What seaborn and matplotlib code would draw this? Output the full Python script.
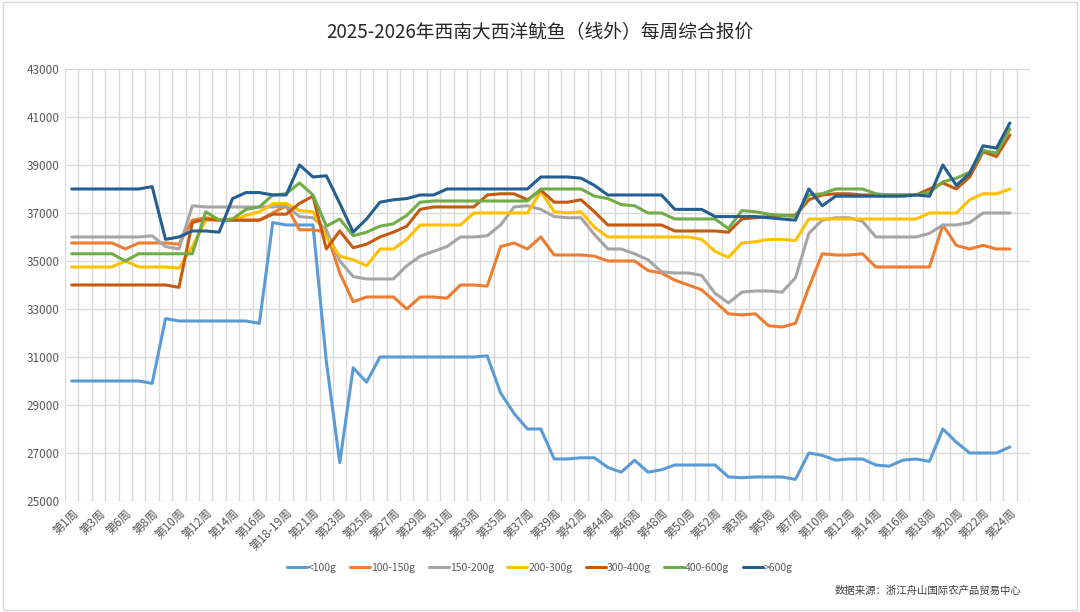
import numpy as np
import pandas as pd
import matplotlib
matplotlib.use('Agg')
import matplotlib.pyplot as plt
import seaborn as sns

# weeks 2025 -> 2026 (last category is an empty slot, as in the source chart)
weeks = ['第1周', '第2周', '第3周', '第4-5周', '第6周', '第7周', '第8周', '第9周', '第10周', '第11周',
         '第12周', '第13周', '第14周', '第15周', '第16周', '第17周', '第18-19周', '第20周', '第21周', '第22周',
         '第23周', '第24周', '第25周', '第26周', '第27周', '第28周', '第29周', '第30周', '第31周', '第32周',
         '第33周', '第34周', '第35周', '第36周', '第37周', '第38周', '第39周', '第40-41周', '第42周', '第43周',
         '第44周', '第45周', '第46周', '第47周', '第48周', '第49周', '第50周', '第51周', '第52周', '第1-2周',
         '第3周', '第4周', '第5周', '第6周', '第7周', '第8-9周', '第10周', '第11周', '第12周', '第13周',
         '第14周', '第15周', '第16周', '第17周', '第18周', '第19周', '第20周', '第21周', '第22周', '第23周',
         '第24周', '第25周']

lt100 = [30000]*6 + [29900, 32600] + [32500]*6 + [32400, 36600, 36500, 36500, 36500, 30800, 26600, 30550,
         29950] + [31000]*8 + [31050, 29500, 28650, 28000, 28000, 26750, 26750, 26800, 26800, 26400,
         26200, 26700, 26200, 26300, 26500, 26500, 26500, 26500, 26000, 25970, 26000, 26000, 26000,
         25900, 27000, 26900, 26700, 26750, 26750, 26500, 26450, 26700, 26750, 26650, 28000, 27450,
         27000, 27000, 27000, 27250]

g100_150 = [35750]*4 + [35500] + [35750]*3 + [35700, 36700, 36800] + [36700]*4 + [37000, 37300, 36300,
            36300, 36200, 34500, 33300, 33500, 33500, 33500, 33000, 33500, 33500, 33450, 34000, 34000,
            33950, 35600, 35750, 35500, 36000, 35250, 35250, 35250, 35200, 35000, 35000, 35000, 34600,
            34500, 34200, 34000, 33800, 33300, 32800, 32750, 32800, 32300, 32250, 32400, 33900, 35300,
            35250, 35250, 35300] + [34750]*5 + [36500, 35650, 35500, 35650, 35500, 35500]

g150_200 = [36000]*6 + [36050, 35600, 35500, 37300] + [37250]*6 + [37300, 36850, 36800, 36300, 35000,
            34350, 34250, 34250, 34250, 34800, 35200, 35400, 35600, 36000, 36000, 36050, 36500, 37250,
            37300, 37150, 36850, 36800, 36800, 36100, 35500, 35500, 35300, 35050, 34550, 34500, 34500,
            34400, 33650, 33250, 33700, 33750, 33750, 33700, 34300, 36150, 36700, 36800, 36800, 36650,
            36000, 36000, 36000, 36000, 36150, 36500, 36500, 36600, 37000, 37000, 37000]

g200_300 = [34750]*4 + [35000] + [34750]*3 + [34700, 35600, 36700, 36700, 36700, 36900, 37050, 37380,
            37400, 37100, 37050, 36000, 35200, 35050, 34800, 35500, 35500, 35900, 36500, 36500, 36500,
            36500] + [37000]*5 + [37900, 37050, 37000, 37050, 36400] + [36000]*7 + [35900, 35400, 35150,
            35750, 35800, 35900, 35900, 35850] + [36750]*9 + [37000, 37000, 37000, 37550, 37800, 37800,
            38000]

g300_400 = [34000]*8 + [33900, 36600, 36750] + [36700]*4 + [36950, 36950, 37400, 37700, 35500, 36250,
            35550, 35700, 36000, 36200, 36450, 37150] + [37250]*4 + [37750, 37800, 37800, 37550, 37950,
            37450, 37450, 37550, 37050] + [36500]*5 + [36250]*4 + [36200, 36750, 36800, 36850, 36900,
            36900, 37550, 37750, 37800, 37800] + [37750]*5 + [38000, 38250, 38000, 38500, 39550, 39350,
            40250]

g400_600 = [35300]*4 + [35000] + [35300]*5 + [37050, 36700, 36750, 37150, 37250, 37750, 37800, 38250,
            37750, 36450, 36750, 36050, 36200, 36450, 36550, 36900, 37450] + [37500]*8 + [38000]*4 + [
            37700, 37600, 37350, 37300, 37000, 37000] + [36750]*4 + [36350, 37100, 37050, 36950, 36900,
            36850, 37750, 37800, 38000, 38000, 38000, 37800, 37750, 37750, 37750, 37850, 38300, 38450,
            38700, 39600, 39500, 40500]

gt600 = [38000]*6 + [38100, 35900, 36000, 36250, 36250, 36200, 37600, 37850, 37850, 37750, 37750, 39000,
         38500, 38550, 37400, 36200, 36750, 37450, 37550, 37600, 37750, 37750] + [38000]*7 + [38500,
         38500, 38500, 38450, 38150] + [37750]*5 + [37150]*3 + [36850]*4 + [36800, 36750, 36700, 38000,
         37300] + [37700]*6 + [37750, 37700, 39000, 38150, 38650, 39800, 39700, 40750]

series_names = ['<100g', '100-150g', '150-200g', '200-300g', '300-400g', '400-600g', '>600g']
series_vals = [lt100, g100_150, g150_200, g200_300, g300_400, g400_600, gt600]
colors = ['#5B9BD5', '#ED7D31', '#A5A5A5', '#FFC000', '#C55A11', '#70AD47', '#255E91']

rows = []
for name, vals in zip(series_names, series_vals):
    for i, v in enumerate(vals):
        rows.append({'idx': i, 'week': weeks[i], 'size': name, 'price': v})
df = pd.DataFrame(rows)

sns.set_theme(style='white')
plt.rcParams['font.family'] = ['Noto Sans CJK SC', 'DejaVu Sans']

fig = plt.figure(figsize=(10.8, 6.12), dpi=100)
ax = fig.add_axes([0.0602, 0.1814, 0.8935, 0.7059])

sns.lineplot(data=df, x='idx', y='price', hue='size', hue_order=series_names,
             palette=dict(zip(series_names, colors)), linewidth=2.2, ax=ax, legend=False)

ax.set_xlim(-0.5, len(weeks) - 0.5)
ax.set_ylim(25000, 43000)
ax.set_yticks(np.arange(25000, 43001, 2000))
ax.set_yticklabels([str(v) for v in range(25000, 43001, 2000)], fontsize=8.5, color='#595959')
ax.set_xticks(np.arange(0, len(weeks), 2))
ax.set_xticklabels(weeks[::2], rotation=45, ha='right', rotation_mode='anchor',
                   fontsize=8.5, color='#595959')
ax.set_xticks(np.arange(-0.5, len(weeks), 1), minor=True)
ax.tick_params(axis='both', which='both', length=0, pad=4)
ax.grid(True, axis='y', which='major', color='#D9D9D9', linewidth=1)
ax.grid(True, axis='x', which='minor', color='#D9D9D9', linewidth=1)
ax.grid(False, axis='x', which='major')
for s in ax.spines.values():
    s.set_visible(False)
ax.set_xlabel('')
ax.set_ylabel('')

handles = [plt.Line2D([], [], color=c, linewidth=2.2) for c in colors]
fig.legend(handles, series_names, loc='center', bbox_to_anchor=(0.5, 0.072), ncol=7,
           frameon=False, fontsize=7.5, handlelength=1.9, handletextpad=0.1, columnspacing=1.3,
           labelcolor='#595959')

fig.text(0.5, 0.946, '2025-2026年西南大西洋鱿鱼（线外）每周综合报价', ha='center', va='center',
         fontsize=13.5, color='#262626')
fig.text(0.773, 0.034, '数据来源：浙江舟山国际农产品贸易中心', ha='left', va='center',
         fontsize=7.5, color='#404040')

fig.patches.append(plt.Rectangle((0.003, 0.004), 0.994, 0.992, transform=fig.transFigure,
                                 fill=False, edgecolor='#D9D9D9', linewidth=1))

fig.savefig('out.png', dpi=100)
